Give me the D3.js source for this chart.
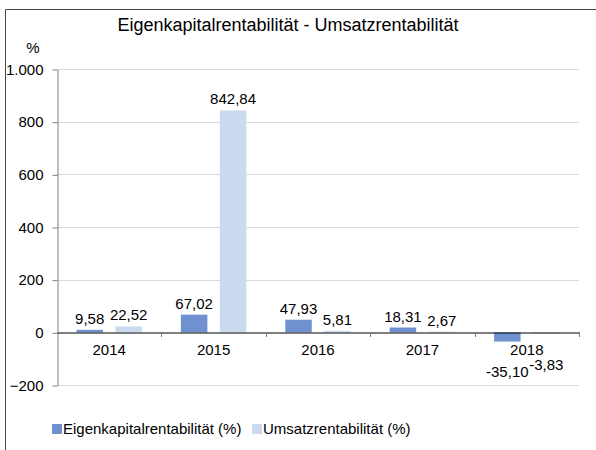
<!DOCTYPE html>
<html>
<head>
<meta charset="utf-8">
<script src="https://cdn.jsdelivr.net/npm/d3@7"></script>
<style>
  body { margin: 0; background: #fff; }
  svg text { font-family: "Liberation Sans", Arial, sans-serif; }
</style>
</head>
<body>
<svg width="596" height="450"></svg>
<script>
const years = ['2014', '2015', '2016', '2017', '2018'];
const eigenkapital = [9.58, 67.02, 47.93, 18.31, -35.10];
const umsatz = [22.52, 842.84, 5.81, 2.67, -3.83];
const seriesNames = ['Eigenkapitalrentabilität (%)', 'Umsatzrentabilität (%)'];
const yTicks = [-200, 0, 200, 400, 600, 800, 1000];

const colors = ['#6f91cf', '#cbdbef'];
const fmt = v => v.toFixed(2).replace('.', ',');
const fmtTick = v => d3.format(',')(v).replace(/,/g, '.');

const svg = d3.select('svg');

// outer frame (top + left only visible)
svg.append('path')
    .attr('d', 'M5.5,450 V9.5 H596')
    .attr('fill', 'none')
    .attr('stroke', '#444')
    .attr('stroke-width', 1);

const margin = { left: 57, right: 17, top: 69, bottom: 65 };
const x = d3.scaleBand().domain(years).range([margin.left, 596 - margin.right]);
const y = d3.scaleLinear().domain([-200, 1000]).range([385, margin.top]);

// title
svg.append('text')
    .attr('x', 288).attr('y', 31)
    .attr('text-anchor', 'middle')
    .attr('font-size', 18)
    .text('Eigenkapitalrentabilität - Umsatzrentabilität');

svg.append('text')
    .attr('x', 33).attr('y', 53)
    .attr('text-anchor', 'middle')
    .attr('font-size', 15)
    .text('%');

// gridlines
svg.append('g')
    .selectAll('line')
    .data(yTicks.filter(d => d !== 0))
    .enter().append('line')
    .attr('x1', margin.left).attr('x2', 596 - margin.right)
    .attr('y1', d => Math.round(y(d)) + 0.5).attr('y2', d => Math.round(y(d)) + 0.5)
    .attr('stroke', '#d9d9d9');

// y axis
const yAxis = svg.append('g')
    .attr('transform', `translate(${margin.left + 0.5},0.5)`)
    .call(d3.axisLeft(y).tickValues(yTicks).tickFormat(fmtTick).tickSize(5).tickSizeOuter(0));
yAxis.select('.domain').attr('stroke', '#808080');
yAxis.selectAll('.tick line').attr('stroke', '#808080');
yAxis.selectAll('.tick text').attr('font-size', 15).attr('fill', '#000').attr('x', -14);

// bars
const inner = d3.scaleBand().domain([0, 1]).range([0, x.bandwidth()]).paddingInner(0.32).paddingOuter(0.5);
const data = years.map((yr, i) => ({ yr, vals: [eigenkapital[i], umsatz[i]] }));

const groups = svg.append('g').selectAll('g')
    .data(data).enter().append('g')
    .attr('transform', d => `translate(${x(d.yr)},0)`);

groups.selectAll('rect')
    .data(d => d.vals.map((v, k) => ({ v, k })))
    .enter().append('rect')
    .attr('x', d => inner(d.k))
    .attr('width', inner.bandwidth())
    .attr('y', d => y(Math.max(0, d.v)))
    .attr('height', d => Math.abs(y(d.v) - y(0)))
    .attr('fill', d => colors[d.k]);

// x axis at zero
const xAxis = svg.append('g')
    .attr('transform', `translate(0,${Math.round(y(0)) + 0.5})`)
    .call(d3.axisBottom(x).tickSize(0).tickSizeOuter(0));
xAxis.select('.domain').attr('stroke', '#000');
xAxis.selectAll('.tick text').attr('font-size', 15).attr('fill', '#000').attr('dy', 0).attr('y', 22);

// category separator ticks
svg.append('g').selectAll('line')
    .data(years.map(d => x(d) + x.bandwidth()))
    .enter().append('line')
    .attr('x1', d => Math.round(d) + 0.5).attr('x2', d => Math.round(d) + 0.5)
    .attr('y1', Math.round(y(0))).attr('y2', Math.round(y(0)) + 5)
    .attr('stroke', '#808080');

// value labels
groups.selectAll('text.val')
    .data(d => d.vals.map((v, k) => ({ v, k })))
    .enter().append('text')
    .attr('class', 'val')
    .attr('font-size', 15)
    .attr('text-anchor', 'middle')
    .attr('x', d => inner(d.k) + inner.bandwidth() / 2)
    .attr('y', d => d.v >= 0 ? y(d.v) - 6 : y(0) + (d.k ? 38 : 45))
    .text(d => fmt(d.v));

// legend
const legend = svg.append('g').attr('transform', 'translate(52,424)');
const li = legend.selectAll('g').data(seriesNames).enter().append('g')
    .attr('transform', (d, i) => `translate(${i * 200},0)`);
li.append('rect').attr('width', 10).attr('height', 10).attr('fill', (d, i) => colors[i]);
li.append('text').attr('x', 11).attr('y', 10).attr('font-size', 15).text(d => d);
</script>
</body>
</html>
